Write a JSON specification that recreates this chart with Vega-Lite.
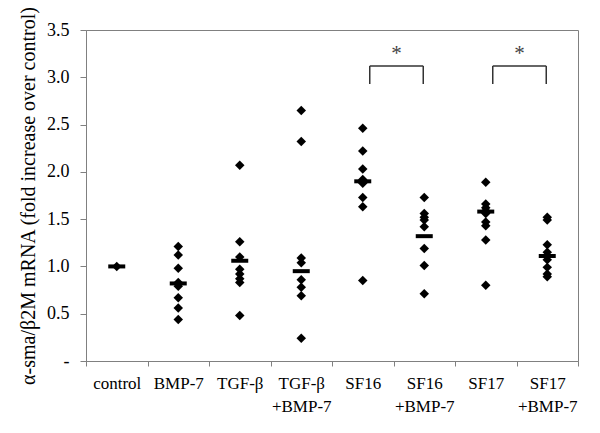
{
  "$schema": "https://vega.github.io/schema/vega-lite/v6.json",
  "width": 492,
  "height": 331,
  "autosize": {"type": "none"},
  "padding": {"left": 86, "top": 30, "right": 22, "bottom": 72},
  "background": "white",
  "config": {
    "view": {"stroke": "#808080", "strokeWidth": 1},
    "axis": {
      "labelFont": "Liberation Serif",
      "titleFont": "Liberation Serif",
      "labelColor": "#000000",
      "titleColor": "#000000",
      "domainColor": "#808080",
      "tickColor": "#808080",
      "grid": false,
      "labelFontSize": 17,
      "titleFontWeight": "normal"
    }
  },
  "datasets": {
    "points": [
      {"group": "control", "value": 1.00},
      {"group": "BMP-7", "value": 1.21},
      {"group": "BMP-7", "value": 1.12},
      {"group": "BMP-7", "value": 0.98},
      {"group": "BMP-7", "value": 0.83},
      {"group": "BMP-7", "value": 0.79},
      {"group": "BMP-7", "value": 0.67},
      {"group": "BMP-7", "value": 0.56},
      {"group": "BMP-7", "value": 0.44},
      {"group": "TGF-β", "value": 2.07},
      {"group": "TGF-β", "value": 1.26},
      {"group": "TGF-β", "value": 1.10},
      {"group": "TGF-β", "value": 0.97},
      {"group": "TGF-β", "value": 0.92},
      {"group": "TGF-β", "value": 0.87},
      {"group": "TGF-β", "value": 0.83},
      {"group": "TGF-β", "value": 0.48},
      {"group": "TGF-β +BMP-7", "value": 2.65},
      {"group": "TGF-β +BMP-7", "value": 2.32},
      {"group": "TGF-β +BMP-7", "value": 1.09},
      {"group": "TGF-β +BMP-7", "value": 1.04},
      {"group": "TGF-β +BMP-7", "value": 0.86},
      {"group": "TGF-β +BMP-7", "value": 0.78},
      {"group": "TGF-β +BMP-7", "value": 0.69},
      {"group": "TGF-β +BMP-7", "value": 0.24},
      {"group": "SF16", "value": 2.46},
      {"group": "SF16", "value": 2.22},
      {"group": "SF16", "value": 2.03},
      {"group": "SF16", "value": 1.92},
      {"group": "SF16", "value": 1.88},
      {"group": "SF16", "value": 1.73},
      {"group": "SF16", "value": 1.63},
      {"group": "SF16", "value": 0.85},
      {"group": "SF16 +BMP-7", "value": 1.73},
      {"group": "SF16 +BMP-7", "value": 1.56},
      {"group": "SF16 +BMP-7", "value": 1.52},
      {"group": "SF16 +BMP-7", "value": 1.49},
      {"group": "SF16 +BMP-7", "value": 1.42},
      {"group": "SF16 +BMP-7", "value": 1.19},
      {"group": "SF16 +BMP-7", "value": 1.01},
      {"group": "SF16 +BMP-7", "value": 0.71},
      {"group": "SF17", "value": 1.89},
      {"group": "SF17", "value": 1.66},
      {"group": "SF17", "value": 1.62},
      {"group": "SF17", "value": 1.59},
      {"group": "SF17", "value": 1.56},
      {"group": "SF17", "value": 1.47},
      {"group": "SF17", "value": 1.43},
      {"group": "SF17", "value": 1.28},
      {"group": "SF17", "value": 0.80},
      {"group": "SF17 +BMP-7", "value": 1.52},
      {"group": "SF17 +BMP-7", "value": 1.49},
      {"group": "SF17 +BMP-7", "value": 1.23},
      {"group": "SF17 +BMP-7", "value": 1.15},
      {"group": "SF17 +BMP-7", "value": 1.07},
      {"group": "SF17 +BMP-7", "value": 0.99},
      {"group": "SF17 +BMP-7", "value": 0.92},
      {"group": "SF17 +BMP-7", "value": 0.89}
    ],
    "medians": [
      {"group": "control", "value": 1.00},
      {"group": "BMP-7", "value": 0.82},
      {"group": "TGF-β", "value": 1.06},
      {"group": "TGF-β +BMP-7", "value": 0.95},
      {"group": "SF16", "value": 1.90},
      {"group": "SF16 +BMP-7", "value": 1.32},
      {"group": "SF17", "value": 1.58},
      {"group": "SF17 +BMP-7", "value": 1.11}
    ],
    "brackets": [
      {"from": "SF16", "to": "SF16 +BMP-7", "low": 2.93, "high": 3.12},
      {"from": "SF17", "to": "SF17 +BMP-7", "low": 2.93, "high": 3.12}
    ],
    "stars": [
      {"group": "SF16", "value": 3.30, "label": "*"},
      {"group": "SF17", "value": 3.30, "label": "*"}
    ]
  },
  "layer": [
    {
      "data": {"name": "points"},
      "mark": {"type": "point", "shape": "diamond", "filled": true, "color": "#000000", "size": 90, "opacity": 1},
      "encoding": {
        "x": {
          "field": "group",
          "type": "nominal",
          "sort": null,
          "title": null,
          "scale": {
            "type": "band",
            "domain": ["control", "BMP-7", "TGF-β", "TGF-β +BMP-7", "SF16", "SF16 +BMP-7", "SF17", "SF17 +BMP-7"],
            "paddingInner": 0,
            "paddingOuter": 0
          },
          "axis": {
            "labelAngle": 0,
            "tickBand": "extent",
            "tickSize": 5,
            "labelPadding": 9,
            "labelLineHeight": 23,
            "labelExpr": "split(datum.label, ' ')"
          }
        },
        "y": {
          "field": "value",
          "type": "quantitative",
          "title": "α-sma/β2M mRNA (fold increase over control)",
          "scale": {"domain": [0, 3.5], "nice": false, "zero": true},
          "axis": {
            "values": [0, 0.5, 1, 1.5, 2, 2.5, 3, 3.5],
            "labelExpr": "datum.value == 0 ? '-' : format(datum.value, '.1f')",
            "tickSize": 6,
            "labelPadding": 11,
            "labelFontSize": 18,
            "titleFontSize": 20,
            "titlePadding": 8
          }
        }
      }
    },
    {
      "data": {"name": "medians"},
      "mark": {"type": "tick", "orient": "horizontal", "color": "#000000", "size": 17, "thickness": 4, "opacity": 1},
      "encoding": {
        "x": {"field": "group", "type": "nominal", "title": null},
        "y": {"field": "value", "type": "quantitative", "title": "α-sma/β2M mRNA (fold increase over control)"}
      }
    },
    {
      "data": {"name": "brackets"},
      "mark": {"type": "rule", "color": "#333333", "strokeWidth": 1.5, "xOffset": 7, "x2Offset": -1},
      "encoding": {
        "x": {"field": "from", "type": "nominal", "title": null},
        "x2": {"field": "to"},
        "y": {"field": "high", "type": "quantitative", "title": "α-sma/β2M mRNA (fold increase over control)"}
      }
    },
    {
      "data": {"name": "brackets"},
      "mark": {"type": "rule", "color": "#333333", "strokeWidth": 1.5, "xOffset": 7},
      "encoding": {
        "x": {"field": "from", "type": "nominal", "title": null},
        "y": {"field": "low", "type": "quantitative", "title": "α-sma/β2M mRNA (fold increase over control)"},
        "y2": {"field": "high"}
      }
    },
    {
      "data": {"name": "brackets"},
      "mark": {"type": "rule", "color": "#333333", "strokeWidth": 1.5, "xOffset": -1},
      "encoding": {
        "x": {"field": "to", "type": "nominal", "title": null},
        "y": {"field": "low", "type": "quantitative", "title": "α-sma/β2M mRNA (fold increase over control)"},
        "y2": {"field": "high"}
      }
    },
    {
      "data": {"name": "stars"},
      "mark": {"type": "text", "font": "Liberation Serif", "fontSize": 21, "color": "#444444", "baseline": "middle", "align": "center", "dx": 3, "dy": 5},
      "encoding": {
        "x": {"field": "group", "type": "nominal", "bandPosition": 1, "title": null},
        "y": {"field": "value", "type": "quantitative", "title": "α-sma/β2M mRNA (fold increase over control)"},
        "text": {"field": "label"}
      }
    }
  ]
}
